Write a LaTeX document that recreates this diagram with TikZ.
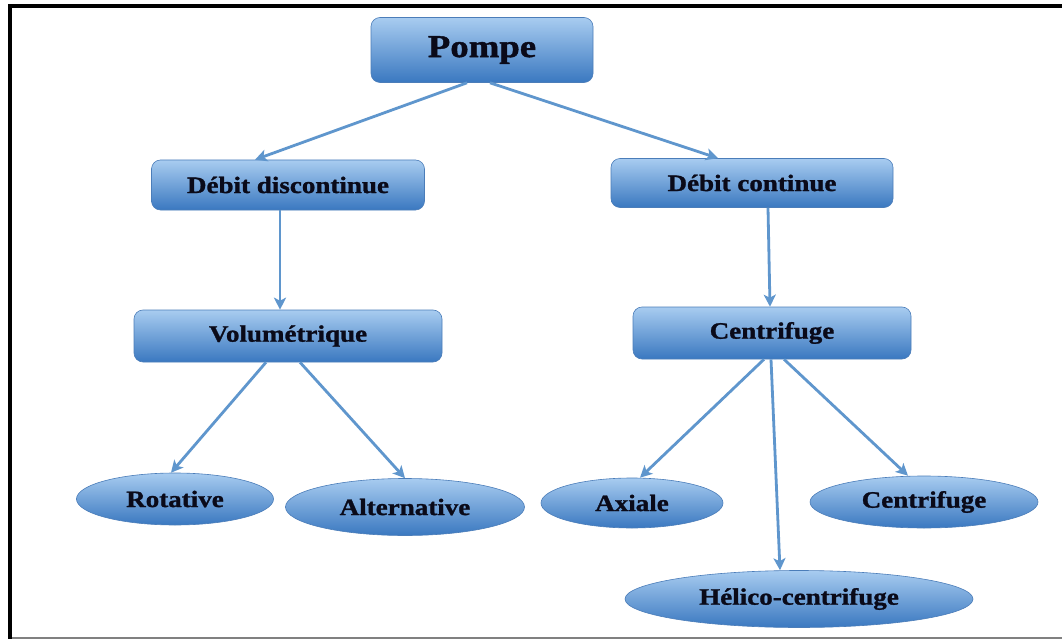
\documentclass[tikz,border=0pt]{standalone}
\usepackage{fontspec}
\newfontfamily\labfont[FakeStretch=1.15,FakeBold=1.2]{Liberation Serif}
\usetikzlibrary{arrows.meta,shapes.geometric}
\definecolor{arrowblue}{RGB}{95,150,205}
\definecolor{toplight}{RGB}{168,204,240}
\definecolor{botdark}{RGB}{58,120,192}
\definecolor{edgeblue}{RGB}{75,125,185}
\definecolor{inkdark}{RGB}{10,10,25}
\tikzset{
  x=1pt, y=-1pt,
  boxnode/.style={rectangle, rounded corners=9pt, draw=edgeblue, line width=0.6pt,
    top color=toplight, bottom color=botdark, text=inkdark,
    font=\labfont\bfseries\fontsize{23.5}{23.5}\selectfont, inner sep=0pt},
  ovalnode/.style={ellipse, draw=edgeblue, line width=0.6pt,
    top color=toplight, bottom color=botdark, text=inkdark,
    font=\labfont\bfseries\fontsize{23.5}{23.5}\selectfont, inner sep=0pt},
  link/.style={draw=arrowblue, line width=2.8pt,
    -{Stealth[length=12pt,width=12pt,inset=3pt]}},
}
\begin{document}
\begin{tikzpicture}
  \useasboundingbox (0,0) rectangle (1062,639);
  \fill[white] (0,0) rectangle (1062,639);
  % page frame
  \fill[black] (8,4) rectangle (1062,8);
  \fill[black] (8,4) rectangle (12,639);
  \fill[gray] (12,637) rectangle (1062,639);

  % rectangular nodes
  \node[boxnode, minimum width=222pt, minimum height=65pt,
    font=\labfont\bfseries\fontsize{32}{32}\selectfont] (pompe) at (482,50) {Pompe};
  \node[boxnode, minimum width=273pt, minimum height=50pt] (disc) at (288,185) {Débit discontinue};
  \node[boxnode, minimum width=282pt, minimum height=49pt] (cont) at (752,183) {Débit continue};
  \node[boxnode, minimum width=308pt, minimum height=52pt] (vol) at (288,336) {Volumétrique};
  \node[boxnode, minimum width=278pt, minimum height=52pt] (cent) at (772,333) {Centrifuge};

  % elliptical leaves
  \node[ovalnode, minimum width=197pt, minimum height=52pt] (rot) at (175,499) {Rotative};
  \node[ovalnode, minimum width=239pt, minimum height=57pt] (alt) at (405,507) {Alternative};
  \node[ovalnode, minimum width=182pt, minimum height=50pt] (axi) at (632,503) {Axiale};
  \node[ovalnode, minimum width=228pt, minimum height=52pt] (cfg) at (924,502) {Centrifuge};
  \node[ovalnode, minimum width=348pt, minimum height=57pt] (hel) at (799,599) {Hélico-centrifuge};

  % connectors
  \draw[link] ([xshift=-15pt]pompe.south) -- ([xshift=-33pt]disc.north);
  \draw[link] ([xshift=8pt]pompe.south) -- ([xshift=-34pt]cont.north);
  \draw[link] ([xshift=-8pt]disc.south) -- ([xshift=-8pt]vol.north);
  \draw[link] ([xshift=16pt]cont.south) -- ([xshift=-2pt]cent.north);
  \draw[link] ([xshift=-22pt]vol.south) -- ([xshift=-4pt]rot.north);
  \draw[link] ([xshift=12pt]vol.south) -- ([xshift=0pt]alt.north);
  \draw[link] ([xshift=-8pt]cent.south) -- ([xshift=8pt]axi.north);
  \draw[link] ([xshift=-1pt]cent.south) -- ([xshift=-19pt]hel.north);
  \draw[link] ([xshift=12pt]cent.south) -- ([xshift=-16pt]cfg.north);
\end{tikzpicture}
\end{document}
